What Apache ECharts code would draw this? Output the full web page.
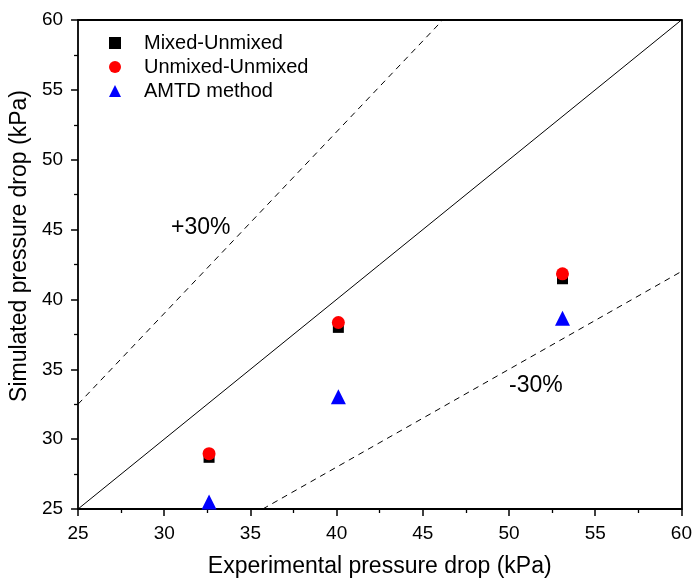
<!DOCTYPE html>
<html><head><meta charset="utf-8">
<script src="https://cdn.jsdelivr.net/npm/echarts@6/dist/echarts.min.js"></script>
<style>html,body{margin:0;padding:0;background:#fff}#c{width:695px;height:583px}</style>
</head><body><div id="c"></div>
<script>
const experimental = [32.6, 40.1, 53.1];
const mixedUnmixed = [28.7, 38.0, 41.48];
const unmixedUnmixed = [28.96, 38.35, 41.83];
const amtd = [25.5, 33.03, 38.65];
const equalLine = [[25, 25], [60, 60]];
const plus30Line = [[25, 32.5], [46.154, 60]];
const minus30Line = [[35.714, 25], [60, 42]];
const annotations = [{ text: '+30%', x: 32.12, y: 45.13 }, { text: '-30%', x: 51.56, y: 33.86 }];
const font = 'Liberation Sans, Arial, sans-serif';

const pts = (ys) => experimental.map((x, i) => [x, ys[i]]);
const chart = echarts.init(document.getElementById('c'));
const axisCommon = {
  min: 25, max: 60, interval: 5,
  axisLine: { show: true, onZero: false, lineStyle: { color: '#000', width: 1.8 } },
  axisTick: { show: true, inside: false, length: 7, lineStyle: { color: '#000', width: 1.5 } },
  minorTick: { show: true, splitNumber: 2, length: 4, lineStyle: { color: '#000', width: 1.3 } },
  splitLine: { show: false },
  axisLabel: { color: '#000', fontSize: 19, fontFamily: font, margin: 15 },
  nameTextStyle: { color: '#000', fontSize: 23, fontFamily: font }
};
const frameAxis = {
  min: 25, max: 60, interval: 5,
  axisLine: { show: true, lineStyle: { color: '#000', width: 1.8 } },
  axisTick: { show: false }, axisLabel: { show: false }, splitLine: { show: false }
};
chart.setOption({
  animation: false,
  grid: { left: 77, right: 12, top: 20, bottom: 70 },
  legend: {
    orient: 'vertical', left: 104, top: 28, itemGap: 4, itemWidth: 12, itemHeight: 12,
    textStyle: { color: '#000', fontSize: 20, fontFamily: font, padding: [0, 0, 0, 18] },
    data: ['Mixed-Unmixed', 'Unmixed-Unmixed', 'AMTD method']
  },
  xAxis: [
    Object.assign({}, axisCommon, { type: 'value', position: 'bottom', name: 'Experimental pressure drop (kPa)', nameLocation: 'middle', nameGap: 46 }),
    Object.assign({}, frameAxis, { type: 'value', position: 'top' })
  ],
  yAxis: [
    Object.assign({}, axisCommon, { type: 'value', position: 'left', name: 'Simulated pressure drop (kPa)', nameLocation: 'middle', nameGap: 42,
      nameTextStyle: Object.assign({}, axisCommon.nameTextStyle, { padding: [0, 0, 0, 37] }) }),
    Object.assign({}, frameAxis, { type: 'value', position: 'right' })
  ],
  series: [
    { type: 'line', data: equalLine, symbol: 'none', lineStyle: { color: '#000', width: 1 }, silent: true },
    { type: 'line', data: plus30Line, symbol: 'none', lineStyle: { color: '#000', width: 1, type: [6, 5] }, silent: true },
    { type: 'line', data: minus30Line, symbol: 'none', lineStyle: { color: '#000', width: 1, type: [6, 5] }, silent: true },
    { name: 'Mixed-Unmixed', type: 'scatter', data: pts(mixedUnmixed), symbol: 'rect', symbolSize: 11, itemStyle: { color: '#000', opacity: 1 } },
    { name: 'Unmixed-Unmixed', type: 'scatter', data: pts(unmixedUnmixed), symbol: 'circle', symbolSize: 13, itemStyle: { color: '#ff0000', opacity: 1 } },
    { name: 'AMTD method', type: 'scatter', data: pts(amtd), symbol: 'triangle', symbolSize: 15, itemStyle: { color: '#0000ff', opacity: 1 } },
    { type: 'scatter', data: annotations.map(a => ({ value: [a.x, a.y], label: { formatter: a.text } })), symbolSize: 0, silent: true,
      itemStyle: { opacity: 1 },
      label: { show: true, position: 'inside', color: '#000', fontSize: 23, fontFamily: font } }
  ]
});
</script></body></html>
